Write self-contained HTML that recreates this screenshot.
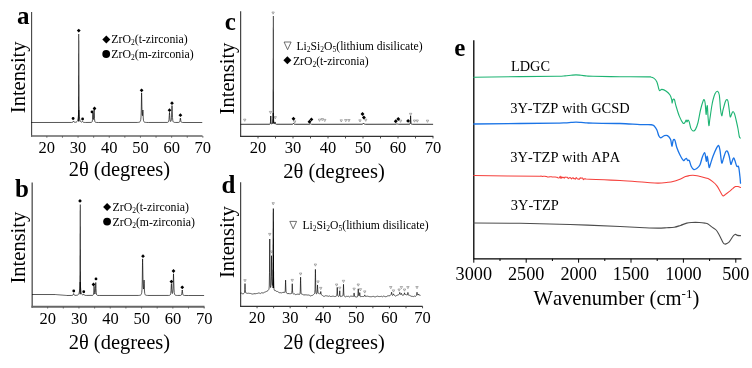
<!DOCTYPE html>
<html lang="en">
<head>
<meta charset="utf-8">
<title>XRD patterns and FTIR spectra</title>
<style>
html,body{margin:0;padding:0;background:#fff;}
body{width:752px;height:368px;overflow:hidden;}
svg{display:block;}
</style>
</head>
<body>
<svg width="752" height="368" viewBox="0 0 752 368" font-family='"Liberation Serif","DejaVu Serif",serif' style="font-kerning:none">
<rect width="752" height="368" fill="#fff"/>
<path d="M31.6 12V136.75" fill="none" stroke="#444" stroke-width="1.1"/>
<path d="M31.05 136H202.5" fill="none" stroke="#666" stroke-width="1.5"/>
<path d="M46.85 136V137.7M62.45 136V137.7M78.05 136V137.7M93.65 136V137.7M109.25 136V137.7M124.85 136V137.7M140.45 136V137.7M156.05 136V137.7M171.65 136V137.7M187.25 136V137.7M202.85 136V137.7" stroke="#555" stroke-width="0.9" fill="none"/>
<text x="46.85" y="153.1" font-size="16.5" text-anchor="middle" font-weight="normal" fill="#000">20</text>
<text x="78.05" y="153.1" font-size="16.5" text-anchor="middle" font-weight="normal" fill="#000">30</text>
<text x="109.25" y="153.1" font-size="16.5" text-anchor="middle" font-weight="normal" fill="#000">40</text>
<text x="140.45" y="153.1" font-size="16.5" text-anchor="middle" font-weight="normal" fill="#000">50</text>
<text x="171.65" y="153.1" font-size="16.5" text-anchor="middle" font-weight="normal" fill="#000">60</text>
<text x="202.85" y="153.1" font-size="16.5" text-anchor="middle" font-weight="normal" fill="#000">70</text>
<text x="119.4" y="176" font-size="20.5" text-anchor="middle" font-weight="normal" fill="#000">2θ (degrees)</text>
<text transform="translate(25 77.3) rotate(-90)" font-size="20.5" text-anchor="middle">Intensity</text>
<text x="29.6" y="23.6" font-size="25" text-anchor="end" font-weight="bold" fill="#000">a</text>
<path d="M31.25 122.5 L71.5 122.46 L72.25 122.39 L72.5 122.33 L72.75 122.21 L73 121.93 L73.25 121.38 L73.5 120.94 L73.75 121.36 L74 121.9 L74.25 122.16 L74.5 122.26 L75 122.31 L75.5 122.27 L75.75 122.22 L76 122.16 L76.25 122.08 L76.5 121.96 L76.75 121.79 L77 121.55 L77.25 121.19 L77.5 120.68 L77.75 119.91 L78 118.8 L78.25 117.19 L78.5 114.54 L78.75 110.26 L78.8 110 L79 112.85 L79.25 116.32 L79.5 118.23 L79.75 119.51 L80 120.4 L80.25 121.01 L80.5 121.41 L80.75 121.69 L81 121.88 L81.25 122 L81.5 122.08 L81.75 122.1 L82 122.03 L82.25 121.82 L82.5 121.5 L82.6 121.46 L82.75 121.58 L83 121.96 L83.25 122.2 L83.5 122.32 L83.75 122.37 L84.25 122.43 L85.5 122.47 L91 122.41 L91.25 122.38 L91.5 122.32 L91.75 122.2 L92 121.95 L92.25 121.33 L92.5 119.52 L92.75 114.81 L92.9 112.7 L93 113.62 L93.25 118.25 L93.5 119.5 L93.75 117.33 L94 111.03 L94.1 109.77 L94.25 112.5 L94.5 118.65 L94.75 121.01 L95 121.81 L95.25 122.13 L95.5 122.28 L95.75 122.36 L96 122.4 L96.5 122.45 L98.5 122.49 L137.25 122.44 L138.25 122.38 L138.75 122.32 L139 122.27 L139.25 122.21 L139.5 122.11 L139.75 121.97 L140 121.76 L140.25 121.42 L140.5 120.82 L140.75 119.68 L141 117.12 L141.25 110.35 L141.5 95.92 L141.6 92.84 L141.75 97.84 L141.9 106.1 L142 109.99 L142.25 114.85 L142.5 115.67 L142.75 111.97 L142.9 110.01 L143 111.61 L143.25 117.94 L143.5 120.5 L143.75 121.41 L144 121.81 L144.25 122.03 L144.5 122.16 L144.75 122.24 L145 122.3 L145.25 122.34 L145.75 122.4 L146.5 122.44 L148.5 122.48 L167 122.43 L167.5 122.38 L167.75 122.33 L168 122.24 L168.25 122.08 L168.5 121.77 L168.75 121.09 L169 119.45 L169.25 115.75 L169.5 112.41 L169.75 115.69 L170 119.33 L170.25 120.88 L170.5 121.41 L170.75 121.45 L171 121.09 L171.25 120.04 L171.5 117.33 L171.75 111.13 L172 105.54 L172.25 111.17 L172.5 117.41 L172.75 120.17 L173 121.31 L173.25 121.83 L173.5 122.08 L173.75 122.23 L174 122.31 L174.25 122.36 L174.75 122.42 L175.75 122.46 L178.75 122.41 L179 122.37 L179.25 122.28 L179.5 122.09 L179.75 121.67 L180 120.62 L180.25 118.65 L180.4 118 L180.5 118.31 L180.75 120.28 L181 121.53 L181.25 122.04 L181.5 122.25 L181.75 122.36 L182 122.41 L182.5 122.46 L186 122.5 L202.25 122.5" fill="none" stroke="#000" stroke-width="0.66" stroke-linejoin="round"/>
<path d="M78.4 34H79.2L79.45 121.6H78.15Z" fill="#000"/>
<circle cx="73.1" cy="118.5" r="1.4" fill="#000"/>
<circle cx="82.6" cy="119" r="1.4" fill="#000"/>
<circle cx="92" cy="111.9" r="1.4" fill="#000"/>
<path d="M78.75 28.7L80.65 30.6L78.75 32.5L76.85 30.6Z" fill="#000"/>
<path d="M94.5 106.6L96.4 108.5L94.5 110.4L92.6 108.5Z" fill="#000"/>
<path d="M141.6 88.4L143.5 90.3L141.6 92.2L139.7 90.3Z" fill="#000"/>
<path d="M169.5 108.3L171.4 110.2L169.5 112.1L167.6 110.2Z" fill="#000"/>
<path d="M172 101.3L173.9 103.2L172 105.1L170.1 103.2Z" fill="#000"/>
<path d="M180.4 113.3L182.3 115.2L180.4 117.1L178.5 115.2Z" fill="#000"/>
<path d="M106.3 35.6L110.3 39.6L106.3 43.6L102.3 39.6Z" fill="#000"/>
<circle cx="106.2" cy="54" r="3.9" fill="#000"/>
<text x="111.3" y="43.0" font-size="11.8">ZrO<tspan font-size="7.5" dy="2.2">2</tspan><tspan dy="-2.2">(t-zirconia)</tspan></text>
<text x="111.3" y="57.8" font-size="11.8">ZrO<tspan font-size="7.5" dy="2.2">2</tspan><tspan dy="-2.2">(m-zirconia)</tspan></text>
<path d="M32.2 182.5V307.75" fill="none" stroke="#666" stroke-width="1.5"/>
<path d="M31.45 306.8H204.5" fill="none" stroke="#666" stroke-width="1.9"/>
<path d="M47.65 306.8V308.5M63.3 306.8V308.5M78.95 306.8V308.5M94.6 306.8V308.5M110.25 306.8V308.5M125.9 306.8V308.5M141.55 306.8V308.5M157.2 306.8V308.5M172.85 306.8V308.5M188.5 306.8V308.5M204.15 306.8V308.5" stroke="#555" stroke-width="0.9" fill="none"/>
<text x="47.85" y="323.5" font-size="16.5" text-anchor="middle" font-weight="normal" fill="#000">20</text>
<text x="79.15" y="323.5" font-size="16.5" text-anchor="middle" font-weight="normal" fill="#000">30</text>
<text x="110.45" y="323.5" font-size="16.5" text-anchor="middle" font-weight="normal" fill="#000">40</text>
<text x="141.75" y="323.5" font-size="16.5" text-anchor="middle" font-weight="normal" fill="#000">50</text>
<text x="173.05" y="323.5" font-size="16.5" text-anchor="middle" font-weight="normal" fill="#000">60</text>
<text x="204.35" y="323.5" font-size="16.5" text-anchor="middle" font-weight="normal" fill="#000">70</text>
<text x="119.4" y="349.3" font-size="20.5" text-anchor="middle" font-weight="normal" fill="#000">2θ (degrees)</text>
<text transform="translate(25.2 247.6) rotate(-90)" font-size="20.5" text-anchor="middle">Intensity</text>
<text x="29" y="196.9" font-size="25" text-anchor="end" font-weight="bold" fill="#000">b</text>
<path d="M32 294.5 L55.5 294.54 L56 294.58 L56.5 294.62 L57 294.67 L57.5 294.71 L58 294.75 L58.5 294.79 L59 294.83 L59.5 294.87 L60 294.92 L60.5 294.96 L61 295 L61.5 295.04 L62 295.08 L62.5 295.12 L63 295.16 L63.5 295.21 L64 295.25 L64.5 295.29 L65 295.33 L65.5 295.37 L66 295.41 L66.5 295.45 L67 295.5 L71.75 295.45 L72.25 295.4 L72.5 295.35 L72.75 295.23 L73 294.98 L73.25 294.43 L73.5 293.68 L73.6 293.57 L73.75 293.8 L74 294.56 L74.25 295.03 L74.5 295.23 L74.75 295.32 L75 295.36 L76.75 295.29 L77 295.25 L77.25 295.19 L77.5 295.11 L77.75 295 L78 294.85 L78.25 294.64 L78.5 294.34 L78.75 293.9 L79 293.24 L79.25 292.28 L79.5 290.9 L79.75 288.84 L80 285.09 L80.2 282 L80.25 282.28 L80.5 286.91 L80.75 289.77 L81 291.51 L81.25 292.71 L81.5 293.53 L81.75 294.08 L82 294.45 L82.25 294.7 L82.5 294.86 L82.75 294.95 L83 294.94 L83.25 294.8 L83.5 294.41 L83.75 294.11 L84 294.49 L84.25 294.95 L84.5 295.19 L84.75 295.3 L85 295.36 L85.5 295.41 L86.5 295.45 L92.5 295.38 L92.75 295.32 L93 295.19 L93.25 294.92 L93.5 294.21 L93.75 292.07 L94 287.25 L94.1 286.27 L94.25 288.18 L94.5 292.5 L94.75 293.96 L95 293.99 L95.25 292.68 L95.5 288.21 L95.75 282.51 L96 288.29 L96.25 292.88 L96.5 294.42 L96.75 294.97 L97 295.21 L97.25 295.32 L97.5 295.38 L98 295.44 L99.25 295.48 L138.25 295.44 L139 295.4 L139.5 295.35 L139.75 295.31 L140 295.27 L140.25 295.2 L140.5 295.1 L140.75 294.96 L141 294.73 L141.25 294.37 L141.5 293.71 L141.75 292.41 L142 289.38 L142.25 281 L142.5 262.74 L142.6 258.86 L142.75 265.33 L143 280.83 L143.25 287 L143.5 289.07 L143.75 287.92 L144 281.45 L144.1 280.08 L144.25 283.8 L144.5 291.01 L144.75 293.54 L145 294.43 L145.25 294.83 L145.5 295.04 L145.75 295.17 L146 295.25 L146.25 295.31 L146.75 295.38 L147.5 295.43 L149 295.47 L168.75 295.43 L169.25 295.37 L169.5 295.33 L169.75 295.25 L170 295.12 L170.25 294.88 L170.5 294.39 L170.75 293.27 L171 290.54 L171.25 285.43 L171.4 283.7 L171.5 284.48 L171.75 289.46 L172 292.48 L172.25 293.47 L172.5 293.38 L172.75 292.19 L173 288.8 L173.25 280.92 L173.5 273.79 L173.75 280.99 L174 288.98 L174.25 292.51 L174.5 293.97 L174.75 294.63 L175 294.96 L175.25 295.15 L175.5 295.25 L175.75 295.32 L176 295.37 L176.5 295.42 L177.5 295.46 L180.5 295.41 L180.75 295.36 L181 295.28 L181.25 295.11 L181.5 294.75 L181.75 293.85 L182 291.82 L182.25 290 L182.5 291.82 L182.75 293.85 L183 294.75 L183.25 295.12 L183.5 295.28 L183.75 295.37 L184 295.41 L184.5 295.46 L188.25 295.5 L204.1 295.5" fill="none" stroke="#000" stroke-width="0.66" stroke-linejoin="round"/>
<path d="M79.8 204.6H80.6L80.85 294.2H79.55Z" fill="#000"/>
<circle cx="73.75" cy="291" r="1.4" fill="#000"/>
<circle cx="83.75" cy="291.75" r="1.4" fill="#000"/>
<circle cx="96" cy="278.9" r="1.4" fill="#000"/>
<path d="M80 199L81.9 200.9L80 202.8L78.1 200.9Z" fill="#000"/>
<path d="M93.5 282.6L95.4 284.5L93.5 286.4L91.6 284.5Z" fill="#000"/>
<path d="M143 254.3L144.9 256.2L143 258.1L141.1 256.2Z" fill="#000"/>
<path d="M171.4 279.7L173.3 281.6L171.4 283.5L169.5 281.6Z" fill="#000"/>
<path d="M173.5 269.1L175.4 271L173.5 272.9L171.6 271Z" fill="#000"/>
<path d="M182.25 285.4L184.15 287.3L182.25 289.2L180.35 287.3Z" fill="#000"/>
<path d="M107.1 203.1L111.1 207.1L107.1 211.1L103.1 207.1Z" fill="#000"/>
<circle cx="107.1" cy="221.6" r="3.9" fill="#000"/>
<text x="112.5" y="211.0" font-size="11.8">ZrO<tspan font-size="7.5" dy="2.2">2</tspan><tspan dy="-2.2">(t-zirconia)</tspan></text>
<text x="112.5" y="225.7" font-size="11.8">ZrO<tspan font-size="7.5" dy="2.2">2</tspan><tspan dy="-2.2">(m-zirconia)</tspan></text>
<path d="M240.65 11.3V136.97" fill="none" stroke="#333" stroke-width="1.1"/>
<path d="M240.1 136.35H433.3" fill="none" stroke="#333" stroke-width="1.25"/>
<path d="M258 136.35V138.45M275.5 136.35V138.45M293 136.35V138.45M310.5 136.35V138.45M328 136.35V138.45M345.5 136.35V138.45M363 136.35V138.45M380.5 136.35V138.45M398 136.35V138.45M415.5 136.35V138.45M433 136.35V138.45" stroke="#333" stroke-width="0.9" fill="none"/>
<text x="258" y="153.1" font-size="16.5" text-anchor="middle" font-weight="normal" fill="#000">20</text>
<text x="293" y="153.1" font-size="16.5" text-anchor="middle" font-weight="normal" fill="#000">30</text>
<text x="328" y="153.1" font-size="16.5" text-anchor="middle" font-weight="normal" fill="#000">40</text>
<text x="363" y="153.1" font-size="16.5" text-anchor="middle" font-weight="normal" fill="#000">50</text>
<text x="398" y="153.1" font-size="16.5" text-anchor="middle" font-weight="normal" fill="#000">60</text>
<text x="433" y="153.1" font-size="16.5" text-anchor="middle" font-weight="normal" fill="#000">70</text>
<text x="334" y="177.9" font-size="20.5" text-anchor="middle" font-weight="normal" fill="#000">2θ (degrees)</text>
<text transform="translate(233.5 78.5) rotate(-90)" font-size="20.5" text-anchor="middle">Intensity</text>
<text x="235.9" y="30.2" font-size="25" text-anchor="end" font-weight="bold" fill="#000">c</text>
<path d="M240.5 124.3 L269.5 124.24 L269.75 124.2 L270 124.1 L270.25 123.73 L270.5 121.88 L270.75 115.98 L271 121.86 L271.25 123.68 L271.5 124 L271.75 124.04 L272 123.97 L272.25 123.78 L272.5 123.32 L272.75 122.11 L273 118.5 L273.25 112.98 L273.5 118.49 L273.75 122.1 L274 123.28 L274.25 123.69 L274.5 123.71 L274.75 123.11 L275 121.95 L275.25 123.21 L275.5 123.94 L275.75 124.14 L276 124.22 L276.5 124.26 L292.5 124.24 L292.75 124.19 L293 124.03 L293.25 123.63 L293.5 123.2 L293.75 123.63 L294 124.03 L294.25 124.19 L294.5 124.24 L295.25 124.29 L309.5 124.26 L309.75 124.21 L310 124.12 L310.25 123.94 L310.5 123.8 L310.75 123.94 L311 124.12 L311.25 124.21 L311.5 124.26 L313 124.3 L362.25 124.23 L362.5 124.18 L362.75 124.08 L363 123.84 L363.25 123.37 L363.5 123 L363.75 123.37 L364 123.84 L364.25 124.08 L364.5 124.18 L364.75 124.23 L365.5 124.28 L396 124.22 L396.25 124.15 L396.5 124.03 L396.75 123.83 L397 123.7 L397.25 123.83 L397.5 124.03 L397.75 124.15 L398 124.22 L398.5 124.27 L409.5 124.24 L409.75 124.17 L410 123.95 L410.25 123.02 L410.5 117.89 L410.6 115.8 L410.75 119.51 L411 123.35 L411.25 124.02 L411.5 124.19 L411.75 124.24 L412.5 124.29 L433.1 124.3" fill="none" stroke="#000" stroke-width="0.8" stroke-linejoin="round"/>
<path d="M272.87 16H273.63L273.85 123.6H272.65Z" fill="#000"/>
<path d="M243.55 119.15L245.95 119.15L244.75 121.35Z" fill="none" stroke="#707070" stroke-width="0.55"/>
<path d="M269.3 111.4L271.7 111.4L270.5 113.6Z" fill="none" stroke="#707070" stroke-width="0.55"/>
<path d="M271.9 12L274.3 12L273.1 14.2Z" fill="none" stroke="#707070" stroke-width="0.55"/>
<path d="M274 116.65L276.4 116.65L275.2 118.85Z" fill="none" stroke="#707070" stroke-width="0.55"/>
<path d="M293.5 120.9L295.9 120.9L294.7 123.1Z" fill="none" stroke="#707070" stroke-width="0.55"/>
<path d="M318.3 119.15L320.7 119.15L319.5 121.35Z" fill="none" stroke="#707070" stroke-width="0.55"/>
<path d="M321.05 118.5L323.45 118.5L322.25 120.7Z" fill="none" stroke="#707070" stroke-width="0.55"/>
<path d="M323.55 119.4L325.95 119.4L324.75 121.6Z" fill="none" stroke="#707070" stroke-width="0.55"/>
<path d="M340.05 119.8L342.45 119.8L341.25 122Z" fill="none" stroke="#707070" stroke-width="0.55"/>
<path d="M344.55 119.5L346.95 119.5L345.75 121.7Z" fill="none" stroke="#707070" stroke-width="0.55"/>
<path d="M347.7 119.5L350.1 119.5L348.9 121.7Z" fill="none" stroke="#707070" stroke-width="0.55"/>
<path d="M358.8 119.8L361.2 119.8L360 122Z" fill="none" stroke="#707070" stroke-width="0.55"/>
<path d="M364.55 119.15L366.95 119.15L365.75 121.35Z" fill="none" stroke="#707070" stroke-width="0.55"/>
<path d="M399.4 120.15L401.8 120.15L400.6 122.35Z" fill="none" stroke="#707070" stroke-width="0.55"/>
<path d="M409.4 113.3L411.8 113.3L410.6 115.5Z" fill="none" stroke="#707070" stroke-width="0.55"/>
<path d="M413.3 120L415.7 120L414.5 122.2Z" fill="none" stroke="#707070" stroke-width="0.55"/>
<path d="M416.05 120L418.45 120L417.25 122.2Z" fill="none" stroke="#707070" stroke-width="0.55"/>
<path d="M426.3 120.15L428.7 120.15L427.5 122.35Z" fill="none" stroke="#707070" stroke-width="0.55"/>
<path d="M293.5 116.8L295.45 118.75L293.5 120.7L291.55 118.75Z" fill="#000"/>
<path d="M309.5 119.8L311.45 121.75L309.5 123.7L307.55 121.75Z" fill="#000"/>
<path d="M311.4 117.45L313.35 119.4L311.4 121.35L309.45 119.4Z" fill="#000"/>
<path d="M362.5 112.05L364.45 114L362.5 115.95L360.55 114Z" fill="#000"/>
<path d="M363.9 115.55L365.85 117.5L363.9 119.45L361.95 117.5Z" fill="#000"/>
<path d="M395.75 119.3L397.7 121.25L395.75 123.2L393.8 121.25Z" fill="#000"/>
<path d="M398.25 117.05L400.2 119L398.25 120.95L396.3 119Z" fill="#000"/>
<path d="M408.1 118.95L410.05 120.9L408.1 122.85L406.15 120.9Z" fill="#000"/>
<path d="M284.1 42.0H291.1L287.6 49.7Z" fill="none" stroke="#333" stroke-width="0.7"/>
<path d="M287.4 56.2L291.4 60.2L287.4 64.2L283.4 60.2Z" fill="#000"/>
<text x="296.5" y="49.5" font-size="11.65">Li<tspan font-size="7.5" dy="2.2">2</tspan><tspan dy="-2.2">Si</tspan><tspan font-size="7.5" dy="2.2">2</tspan><tspan dy="-2.2">O</tspan><tspan font-size="7.5" dy="2.2">5</tspan><tspan dy="-2.2">(lithium disilicate)</tspan></text>
<text x="293.0" y="64.5" font-size="11.65">ZrO<tspan font-size="7.5" dy="2.2">2</tspan><tspan dy="-2.2">(t-zirconia)</tspan></text>
<path d="M240.65 182.3V306.98" fill="none" stroke="#333" stroke-width="1.1"/>
<path d="M240.1 306.35H422.6" fill="none" stroke="#333" stroke-width="1.25"/>
<path d="M257.05 306.35V308.25M273.6 306.35V308.25M290.15 306.35V308.25M306.7 306.35V308.25M323.25 306.35V308.25M339.8 306.35V308.25M356.35 306.35V308.25M372.9 306.35V308.25M389.45 306.35V308.25M406 306.35V308.25M422.55 306.35V308.25" stroke="#333" stroke-width="0.9" fill="none"/>
<text x="257.05" y="323" font-size="16.5" text-anchor="middle" font-weight="normal" fill="#000">20</text>
<text x="290.15" y="323" font-size="16.5" text-anchor="middle" font-weight="normal" fill="#000">30</text>
<text x="323.25" y="323" font-size="16.5" text-anchor="middle" font-weight="normal" fill="#000">40</text>
<text x="356.35" y="323" font-size="16.5" text-anchor="middle" font-weight="normal" fill="#000">50</text>
<text x="389.45" y="323" font-size="16.5" text-anchor="middle" font-weight="normal" fill="#000">60</text>
<text x="422.55" y="323" font-size="16.5" text-anchor="middle" font-weight="normal" fill="#000">70</text>
<text x="334" y="348.7" font-size="20.5" text-anchor="middle" font-weight="normal" fill="#000">2θ (degrees)</text>
<text transform="translate(233.5 242.2) rotate(-90)" font-size="20.5" text-anchor="middle">Intensity</text>
<text x="235.3" y="193.2" font-size="25" text-anchor="end" font-weight="bold" fill="#000">d</text>
<path d="M240.5 293.3 L240.75 293.23 L241 293.17 L241.25 293.11 L241.5 293.15 L241.75 293.33 L242 293.51 L242.25 293.68 L242.5 293.74 L243 293.8 L243.25 293.79 L243.5 293.64 L243.75 293.49 L244 293.29 L244.25 293.04 L244.5 292.41 L244.75 289.82 L245 283.58 L245.25 289.77 L245.5 292.32 L245.75 292.89 L246 293.07 L246.25 293.11 L246.75 293.12 L247 293.19 L247.25 293.26 L247.5 293.34 L247.75 293.39 L248 293.34 L248.25 293.28 L248.5 293.23 L248.75 293.24 L249 293.28 L249.25 293.33 L249.5 293.37 L250.25 293.41 L250.5 293.46 L250.75 293.54 L251 293.63 L251.25 293.72 L251.5 293.8 L251.75 293.89 L252 293.98 L252.25 294.05 L252.75 293.99 L253 293.97 L253.25 293.91 L253.5 293.84 L253.75 293.76 L254 293.69 L255 293.73 L255.75 293.73 L256 293.68 L256.25 293.61 L256.5 293.54 L256.75 293.48 L257.25 293.41 L257.5 293.37 L257.75 293.3 L258 293.2 L258.25 293.1 L258.5 293 L259 293.05 L259.25 293.08 L259.5 293.15 L259.75 293.29 L260 293.44 L260.25 293.58 L260.5 293.42 L260.75 293.18 L261 292.94 L261.25 292.76 L261.5 292.83 L261.75 292.89 L262 292.96 L262.75 292.89 L263.5 292.84 L263.75 292.84 L264 292.74 L264.25 292.52 L264.5 292.29 L264.75 292.06 L265 291.98 L265.25 291.92 L265.5 291.87 L265.75 291.81 L266 291.74 L266.25 291.58 L266.5 291.41 L266.75 291.27 L267 291.14 L267.25 291.01 L267.5 290.86 L267.75 290.68 L268 290.48 L268.25 290.23 L268.5 289.95 L268.75 289.71 L269 288.9 L269.25 286 L269.5 272.35 L269.75 239.01 L270 271.95 L270.25 285.15 L270.5 287.54 L270.75 287.35 L271 285.15 L271.25 276.22 L271.5 255.71 L271.75 274 L271.8 276.63 L272 281.83 L272.25 284.34 L272.5 285.41 L272.75 284.8 L273 280.06 L273.25 270.23 L273.3 269.75 L273.5 276.97 L273.75 285.72 L274 288.76 L274.25 289.87 L274.5 290.38 L274.75 290.64 L275.5 290.63 L275.75 290.78 L276 290.98 L276.25 291.17 L276.5 291.36 L277.25 291.37 L277.5 291.46 L277.75 291.71 L278 291.95 L278.25 292.07 L278.5 292.22 L278.75 292.38 L279 292.53 L279.25 292.66 L280.75 292.72 L281 292.75 L281.25 292.8 L281.5 292.85 L281.75 292.9 L282 292.86 L282.25 292.7 L282.5 292.54 L282.75 292.38 L283 292.33 L284.25 292.37 L284.5 292.35 L284.75 292.3 L285 291.99 L285.25 290.32 L285.5 282.67 L285.6 280.13 L285.75 284.93 L286 291.21 L286.25 292.61 L286.5 293.04 L286.75 293.26 L287 293.42 L287.25 293.55 L289 293.59 L289.25 293.63 L289.5 293.7 L289.75 293.76 L290 293.82 L290.25 293.77 L290.5 293.71 L290.75 293.65 L291.25 293.59 L291.5 293.47 L291.75 292.95 L292 290.25 L292.25 283.71 L292.5 290.05 L292.75 292.64 L293 293.43 L293.25 293.82 L293.5 294.1 L293.75 294.15 L294 294.06 L294.25 293.96 L294.5 293.86 L294.75 294.06 L295 294.26 L295.25 294.47 L295.5 294.57 L296 294.49 L296.25 294.45 L296.5 294.4 L296.75 294.34 L297 294.28 L297.25 294.22 L297.75 294.16 L298.75 294.22 L299 294.24 L299.25 294.32 L299.5 294.34 L299.75 294.25 L300 293.72 L300.25 291.3 L300.5 280.67 L300.6 277.17 L300.75 283.7 L301 292.1 L301.25 293.78 L301.5 294.13 L301.75 294.2 L302 294.28 L302.25 294.32 L302.5 294.34 L302.75 294.44 L303 294.57 L303.25 294.71 L303.5 294.84 L304 294.91 L305.25 294.86 L305.75 294.81 L306.25 294.8 L306.5 294.92 L306.75 295.05 L307 295.17 L307.25 295.15 L307.5 295.03 L307.75 294.91 L308 294.8 L308.25 294.9 L308.5 295 L308.75 295.1 L309 295.19 L309.25 295.26 L309.5 295.33 L309.75 295.4 L310 295.54 L310.25 295.69 L310.5 295.85 L310.75 295.96 L311 295.91 L311.25 295.74 L311.5 295.57 L311.75 295.48 L312.25 295.41 L312.5 295.37 L312.75 295.17 L313 294.97 L313.25 294.76 L313.5 294.56 L313.75 294.38 L314 294.16 L314.25 293.93 L314.5 293.6 L314.75 292.75 L315 289.77 L315.25 277.54 L315.4 269.39 L315.5 273.79 L315.75 288.72 L316 292.78 L316.25 293.76 L316.5 293.91 L316.75 293.71 L317 292.92 L317.25 289.97 L317.5 284.93 L317.75 289.73 L318 292.48 L318.25 293.14 L318.5 293.28 L318.75 293.27 L319 293.36 L319.25 293.63 L319.5 293.88 L319.75 294.07 L320 294.13 L320.25 293.93 L320.5 292.94 L320.75 291.51 L321 293.14 L321.25 294.39 L321.5 294.84 L321.75 295.07 L322 295.23 L322.25 295.35 L322.5 295.52 L322.75 295.77 L323 296.01 L323.25 296.13 L323.5 296.21 L323.75 296.28 L324 296.35 L324.25 296.38 L324.5 296.21 L324.75 296.04 L325 295.88 L325.25 295.78 L325.5 295.74 L325.75 295.7 L326 295.66 L326.25 295.74 L326.5 295.83 L326.75 295.91 L327 295.97 L327.5 296.03 L327.75 296.05 L328 296.12 L328.25 296.19 L328.5 296.26 L328.75 296.3 L329 296.18 L329.25 296.07 L329.5 295.95 L329.75 296 L330 296.16 L330.25 296.31 L330.5 296.47 L331.5 296.42 L331.75 296.37 L332 296.32 L332.25 296.27 L332.5 296.2 L332.75 296.13 L333 296.06 L333.25 296.05 L333.5 296.25 L333.75 296.44 L334 296.64 L334.25 296.62 L334.5 296.46 L334.75 296.3 L335 296.13 L335.25 296.26 L335.5 296.38 L335.75 296.5 L336 296.49 L336.25 296.29 L336.5 296 L336.75 295.35 L337 293.01 L337.25 287.35 L337.5 293.01 L337.75 295.34 L338 295.98 L338.25 296.27 L338.5 296.45 L338.75 296.42 L339 296.23 L339.25 295.8 L339.5 294.2 L339.75 290.72 L340 294.54 L340.25 296.2 L340.5 296.58 L340.75 296.57 L341 296.49 L341.25 296.4 L341.5 296.32 L341.75 296.24 L342 296.15 L342.25 296.06 L342.5 296 L342.75 295.8 L343 295.12 L343.25 292 L343.5 284.33 L343.75 292.11 L344 295.32 L344.25 296.08 L344.5 296.35 L344.75 296.5 L345 296.61 L345.25 296.7 L345.5 296.79 L345.75 296.87 L346 296.73 L346.25 296.54 L346.5 296.34 L346.75 296.2 L347 296.27 L347.25 296.33 L347.5 296.4 L347.75 296.4 L348 296.36 L348.25 296.32 L348.5 296.28 L348.75 296.48 L349 296.67 L349.25 296.86 L349.5 296.9 L349.75 296.7 L350 296.49 L350.25 296.29 L350.5 296.23 L351.25 296.18 L352 296.19 L352.25 296.24 L352.5 296.31 L352.75 296.38 L353 296.43 L353.25 296.48 L353.5 296.4 L353.75 295.78 L354 293.54 L354.1 292.95 L354.25 294.09 L354.5 296.08 L354.75 296.65 L355 296.78 L355.75 296.79 L356 296.86 L356.25 296.93 L356.5 296.99 L356.75 296.99 L357 296.95 L357.25 296.88 L357.5 296.73 L357.75 296.13 L358 293.94 L358.25 288.8 L358.5 293.66 L358.75 295.61 L359 295.91 L359.25 295.67 L359.5 294.59 L359.75 292.62 L360 295.01 L360.25 296.42 L360.5 296.72 L360.75 296.78 L361 296.78 L361.25 296.68 L361.5 296.51 L361.75 296.34 L362 296.16 L362.25 296.33 L362.5 296.48 L362.75 296.64 L363 296.71 L363.25 296.63 L363.5 296.55 L363.75 296.46 L364 296.41 L364.25 296.27 L364.5 295.76 L364.75 294.88 L365 295.75 L365.25 296.24 L365.5 296.37 L366.5 296.29 L366.75 296.25 L367 296.21 L367.25 296.17 L367.5 296.18 L367.75 296.25 L368 296.32 L368.25 296.39 L368.75 296.43 L369 296.45 L369.25 296.5 L369.5 296.65 L369.75 296.8 L370 296.95 L370.25 296.88 L370.5 296.67 L370.75 296.46 L371 296.25 L371.25 296.46 L371.5 296.66 L371.75 296.87 L372 296.92 L372.25 296.73 L372.5 296.54 L372.75 296.34 L373.5 296.4 L373.75 296.45 L374 296.57 L374.25 296.68 L374.5 296.79 L374.75 296.84 L375.5 296.83 L375.75 296.73 L376 296.63 L376.25 296.53 L376.5 296.43 L376.75 296.33 L377 296.23 L377.25 296.13 L377.5 296.2 L377.75 296.3 L378 296.4 L378.25 296.48 L378.75 296.42 L379 296.4 L379.25 296.46 L379.5 296.6 L379.75 296.73 L380 296.87 L380.25 296.68 L380.5 296.5 L380.75 296.31 L381 296.22 L381.25 296.26 L381.5 296.3 L381.75 296.34 L382 296.45 L382.25 296.58 L382.5 296.71 L382.75 296.77 L383 296.55 L383.25 296.33 L383.5 296.11 L383.75 296.08 L384 296.17 L384.25 296.27 L384.5 296.36 L384.75 296.46 L385 296.55 L385.25 296.65 L385.5 296.7 L386.25 296.66 L386.5 296.51 L386.75 296.33 L387 296.14 L387.25 295.99 L388 295.98 L388.25 295.87 L388.5 295.75 L388.75 295.64 L389 295.53 L389.25 295.63 L389.5 295.72 L389.75 295.81 L390 295.75 L390.25 295.45 L390.5 295.13 L390.75 294.76 L391 294.48 L391.25 293.94 L391.5 292.45 L391.6 292.17 L391.75 292.94 L392 294.53 L392.25 295.16 L392.5 295.4 L392.75 295.41 L393 295.22 L393.25 294.69 L393.5 293.84 L393.75 294.63 L394 295.1 L394.25 295.25 L394.5 295.38 L394.75 295.61 L395 295.83 L395.25 296.05 L395.5 296.06 L395.75 296.01 L396 295.97 L396.25 295.78 L396.5 295.59 L396.75 295.41 L397 295.22 L397.25 295.15 L398 295.18 L398.25 294.98 L398.5 294.76 L398.75 294.64 L399 294.52 L399.25 294.33 L399.5 293.61 L399.75 292.39 L400 293.55 L400.25 294.18 L400.5 294.28 L401 294.24 L401.25 293.62 L401.4 293.26 L401.5 293.59 L401.75 294.65 L402 295 L402.25 295.14 L402.5 295.21 L402.75 295.15 L403 295.09 L403.25 295.01 L403.75 295 L404 294.89 L404.25 294.24 L404.5 292.81 L404.75 293.85 L405 294.36 L405.25 294.39 L405.5 294.51 L405.75 294.59 L406 294.65 L406.25 294.72 L406.5 294.77 L406.75 294.82 L407.25 294.84 L407.5 294.54 L407.75 293.18 L407.9 292.41 L408 292.85 L408.25 294.57 L408.5 295.13 L408.75 295.29 L409 295.24 L409.25 295.3 L409.5 295.34 L409.75 295.4 L410 295.55 L410.25 295.69 L410.5 295.83 L410.75 296.02 L411 296.24 L411.5 296.31 L412.25 296.33 L412.5 296.37 L412.75 296.47 L413 296.56 L413.25 296.66 L413.5 296.52 L413.75 296.32 L414 296.13 L414.25 296 L414.5 296.14 L414.75 296.28 L415 296.42 L415.5 296.42 L415.75 296.16 L416 295.88 L416.25 295.59 L416.5 295.14 L416.75 294.04 L417 292.28 L417.25 293.85 L417.5 294.78 L417.75 295.04 L418 295.1 L418.25 295.02 L418.5 294.57 L418.7 294.08 L418.75 294.13 L419 294.84 L419.25 295.12 L419.5 295.19 L419.75 295.24 L420 295.31 L420.25 295.37 L420.5 295.43" fill="none" stroke="#000" stroke-width="0.66" stroke-linejoin="round"/>
<path d="M272.8 208.5H273.8L274.1 288H272.5Z" fill="#000"/>
<path d="M243.8 279.65L246.2 279.65L245 281.85Z" fill="none" stroke="#707070" stroke-width="0.55"/>
<path d="M268.55 233.4L270.95 233.4L269.75 235.6Z" fill="none" stroke="#707070" stroke-width="0.55"/>
<path d="M270.5 250.9L272.9 250.9L271.7 253.1Z" fill="none" stroke="#707070" stroke-width="0.55"/>
<path d="M272 202.65L274.4 202.65L273.2 204.85Z" fill="none" stroke="#707070" stroke-width="0.55"/>
<path d="M291.05 279.4L293.45 279.4L292.25 281.6Z" fill="none" stroke="#707070" stroke-width="0.55"/>
<path d="M299.4 273L301.8 273L300.6 275.2Z" fill="none" stroke="#707070" stroke-width="0.55"/>
<path d="M314.2 264L316.6 264L315.4 266.2Z" fill="none" stroke="#707070" stroke-width="0.55"/>
<path d="M316.8 280.9L319.2 280.9L318 283.1Z" fill="none" stroke="#707070" stroke-width="0.55"/>
<path d="M319.55 287.4L321.95 287.4L320.75 289.6Z" fill="none" stroke="#707070" stroke-width="0.55"/>
<path d="M335.4 284L337.8 284L336.6 286.2Z" fill="none" stroke="#707070" stroke-width="0.55"/>
<path d="M338.55 287.15L340.95 287.15L339.75 289.35Z" fill="none" stroke="#707070" stroke-width="0.55"/>
<path d="M342.3 280.3L344.7 280.3L343.5 282.5Z" fill="none" stroke="#707070" stroke-width="0.55"/>
<path d="M352.9 288.15L355.3 288.15L354.1 290.35Z" fill="none" stroke="#707070" stroke-width="0.55"/>
<path d="M357.05 284L359.45 284L358.25 286.2Z" fill="none" stroke="#707070" stroke-width="0.55"/>
<path d="M359.2 288.65L361.6 288.65L360.4 290.85Z" fill="none" stroke="#707070" stroke-width="0.55"/>
<path d="M363.55 290.9L365.95 290.9L364.75 293.1Z" fill="none" stroke="#707070" stroke-width="0.55"/>
<path d="M389.55 286.5L391.95 286.5L390.75 288.7Z" fill="none" stroke="#707070" stroke-width="0.55"/>
<path d="M392.3 289.9L394.7 289.9L393.5 292.1Z" fill="none" stroke="#707070" stroke-width="0.55"/>
<path d="M397.9 289L400.3 289L399.1 291.2Z" fill="none" stroke="#707070" stroke-width="0.55"/>
<path d="M400.2 286.5L402.6 286.5L401.4 288.7Z" fill="none" stroke="#707070" stroke-width="0.55"/>
<path d="M403.3 289L405.7 289L404.5 291.2Z" fill="none" stroke="#707070" stroke-width="0.55"/>
<path d="M406.7 286.5L409.1 286.5L407.9 288.7Z" fill="none" stroke="#707070" stroke-width="0.55"/>
<path d="M415.8 286.5L418.2 286.5L417 288.7Z" fill="none" stroke="#707070" stroke-width="0.55"/>
<path d="M289.8 221.4H296.6L293.2 228.8Z" fill="none" stroke="#333" stroke-width="0.7"/>
<text x="302.5" y="229.2" font-size="11.65">Li<tspan font-size="7.5" dy="2.2">2</tspan><tspan dy="-2.2">Si</tspan><tspan font-size="7.5" dy="2.2">2</tspan><tspan dy="-2.2">O</tspan><tspan font-size="7.5" dy="2.2">5</tspan><tspan dy="-2.2">(lithium disilicate)</tspan></text>
<path d="M473.8 40.2V258.8H741.5" fill="none" stroke="#000" stroke-width="1.3"/>
<path d="M473.8 258.8v3.9M500 258.8v2.2M526.2 258.8v3.9M552.4 258.8v2.2M578.6 258.8v3.9M604.8 258.8v2.2M631 258.8v3.9M657.2 258.8v2.2M683.4 258.8v3.9M709.6 258.8v2.2M735.8 258.8v3.9" stroke="#000" stroke-width="1" fill="none"/>
<text x="473.8" y="280.4" font-size="18.2" text-anchor="middle" font-weight="normal" fill="#000">3000</text>
<text x="526.2" y="280.4" font-size="18.2" text-anchor="middle" font-weight="normal" fill="#000">2500</text>
<text x="578.6" y="280.4" font-size="18.2" text-anchor="middle" font-weight="normal" fill="#000">2000</text>
<text x="631" y="280.4" font-size="18.2" text-anchor="middle" font-weight="normal" fill="#000">1500</text>
<text x="683.4" y="280.4" font-size="18.2" text-anchor="middle" font-weight="normal" fill="#000">1000</text>
<text x="735.8" y="280.4" font-size="18.2" text-anchor="middle" font-weight="normal" fill="#000">500</text>
<text x="616.4" y="304.8" font-size="20.6" text-anchor="middle">Wavenumber (cm<tspan font-size="13" dy="-6.6">-1</tspan><tspan dy="6.6">)</tspan></text>
<text x="465.4" y="56.1" font-size="25" text-anchor="end" font-weight="bold" fill="#000">e</text>
<text x="511" y="71.2" font-size="14.3" text-anchor="start" font-weight="normal" fill="#000">LDGC</text>
<text x="510.2" y="113.3" font-size="14.45" text-anchor="start" font-weight="normal" fill="#000">3Y-TZP with GCSD</text>
<text x="510.3" y="161.7" font-size="14.45" text-anchor="start" font-weight="normal" fill="#000">3Y-TZP with APA</text>
<text x="510.8" y="209.9" font-size="14.4" text-anchor="start" font-weight="normal" fill="#000">3Y-TZP</text>
<path d="M473.8 77.25L520 76.6L557 76.3C564.5 76.18 562.67 76.07 565 75.9C567.33 75.73 569.17 75.47 571 75.3C572.83 75.13 574.33 74.9 576 74.9C577.67 74.9 579.17 75.12 581 75.3C582.83 75.48 585 75.83 587 76C589 76.17 587.5 76.18 593 76.3C598.5 76.42 610.83 76.6 620 76.7C629.17 76.8 643 76.87 648 76.9C653 76.93 649.04 76.7 650 76.9C650.96 77.1 652.6 77.27 653.75 78.1C654.9 78.93 656.07 80.12 656.9 81.9C657.73 83.68 658.27 87.3 658.75 88.75C659.23 90.2 659.23 90.49 659.75 90.6C660.27 90.71 660.82 89.29 661.9 89.4C662.98 89.51 664.9 90.32 666.25 91.25C667.6 92.18 669.09 93.61 670 95C670.91 96.39 671.35 98.25 671.7 99.6C672.05 100.95 671.88 103.1 672.1 103.1C672.32 103.1 672.62 100.18 673 99.6C673.38 99.02 673.88 98.49 674.4 99.6C674.92 100.71 675.28 103.5 676.1 106.25C676.92 109 678.15 113.29 679.3 116.1C680.45 118.91 682.07 122.03 683 123.1C683.93 124.17 684.38 123.02 684.9 122.5C685.42 121.98 685.75 120.1 686.1 120C686.45 119.9 686.68 121.9 687 121.9C687.32 121.9 687.62 120 688 120C688.38 120 688.79 120.55 689.25 121.9C689.71 123.25 690.12 126.58 690.75 128.1C691.38 129.62 692.21 130.78 693 131C693.79 131.22 694.67 130.82 695.5 129.4C696.33 127.98 697.17 125.73 698 122.5C698.83 119.27 699.67 113.53 700.5 110C701.33 106.47 702.38 103.03 703 101.3C703.62 99.57 703.83 99.23 704.2 99.6C704.57 99.97 704.88 101.03 705.2 103.5C705.52 105.97 705.84 113.73 706.1 114.4C706.36 115.07 706.53 108.86 706.75 107.5C706.97 106.14 707.19 104.79 707.4 106.25C707.61 107.71 707.75 113.03 708 116.25C708.25 119.47 708.58 125.18 708.9 125.6C709.22 126.02 709.42 121.97 709.9 118.75C710.38 115.53 711.23 109.38 711.75 106.25C712.27 103.12 712.46 102.08 713 100C713.54 97.92 714.25 95.21 715 93.75C715.75 92.29 716.78 91.04 717.5 91.25C718.22 91.46 718.8 92.04 719.3 95C719.8 97.96 720.08 105.53 720.5 109C720.92 112.47 721.38 115.63 721.8 115.8C722.22 115.97 722.38 112.42 723 110C723.62 107.58 724.85 102.98 725.5 101.25C726.15 99.52 726.48 99.6 726.9 99.6C727.32 99.6 727.61 99.52 728 101.25C728.39 102.98 728.88 107.39 729.25 110C729.62 112.61 729.83 116.28 730.25 116.9C730.67 117.53 731.29 114.65 731.75 113.75C732.21 112.85 732.54 111.5 733 111.5C733.46 111.5 733.98 112.33 734.5 113.75C735.02 115.17 735.52 117.5 736.1 120C736.68 122.5 737.48 126.04 738 128.75C738.52 131.46 738.88 134.69 739.25 136.25C739.62 137.81 740.08 137.79 740.25 138.1" fill="none" stroke="#1eb473" stroke-width="1.12" stroke-linejoin="round" stroke-linecap="round"/>
<path d="M473.8 124L520 123.5L557 123.1C564.5 122.98 562.67 122.92 565 122.8C567.33 122.68 569.17 122.52 571 122.4C572.83 122.28 574.33 122.1 576 122.1C577.67 122.1 579.17 122.27 581 122.4C582.83 122.53 585 122.77 587 122.9C589 123.03 587.5 123.1 593 123.2C598.5 123.3 612.17 123.27 620 123.5C627.83 123.73 634.79 124.39 640 124.6C645.21 124.81 648.85 124.47 651.25 124.75C653.65 125.03 653.46 125.38 654.4 126.25C655.34 127.12 656.17 128.44 656.9 130C657.62 131.56 658.13 134.31 658.75 135.6C659.37 136.89 659.66 137.75 660.6 137.75C661.54 137.75 663.25 135.96 664.4 135.6C665.55 135.24 666.47 134.97 667.5 135.6C668.53 136.23 669.87 137.62 670.6 139.4C671.33 141.18 671.47 146.1 671.9 146.25C672.33 146.4 672.7 141.29 673.2 140.3C673.7 139.31 674.3 139.1 674.9 140.3C675.5 141.5 675.95 145.05 676.8 147.5C677.65 149.95 678.9 152.85 680 155C681.1 157.15 682.57 159.67 683.4 160.4C684.23 161.13 684.5 159.73 685 159.4C685.5 159.07 685.95 158.22 686.4 158.4C686.85 158.58 687.23 160.17 687.7 160.5C688.17 160.83 688.62 159.45 689.2 160.4C689.78 161.35 690.47 164.7 691.2 166.2C691.93 167.7 692.68 169.02 693.6 169.4C694.52 169.78 695.7 169.23 696.75 168.5C697.8 167.77 698.99 166.83 699.9 165C700.81 163.17 701.42 159.57 702.2 157.5C702.98 155.43 704.02 152.6 704.6 152.6C705.18 152.6 705.38 156.06 705.7 157.5C706.02 158.94 706.23 161.46 706.5 161.25C706.77 161.04 707.02 156.16 707.3 156.25C707.58 156.34 707.88 159.93 708.2 161.8C708.52 163.68 708.83 167.1 709.2 167.5C709.57 167.9 709.77 166.07 710.4 164.2C711.03 162.33 711.98 158.98 713 156.3C714.02 153.62 715.55 149.88 716.5 148.1C717.45 146.32 718.12 145.23 718.7 145.6C719.28 145.97 719.58 147.9 720 150.3C720.42 152.7 720.87 157.87 721.2 160C721.53 162.13 721.63 163.33 722 163.1C722.37 162.87 722.82 160.42 723.4 158.6C723.98 156.78 724.83 153.42 725.5 152.2C726.17 150.97 726.78 150.57 727.4 151.25C728.02 151.93 728.63 154.09 729.2 156.25C729.77 158.41 730.35 163.24 730.8 164.2C731.25 165.16 731.45 163.03 731.9 162C732.35 160.97 733 158.23 733.5 158C734 157.77 734.36 159.22 734.9 160.6C735.44 161.97 736.13 165.2 736.75 166.25C737.37 167.3 738.08 165.23 738.6 166.9C739.12 168.57 739.58 173.55 739.9 176.25C740.22 178.95 740.4 181.96 740.5 183.1" fill="none" stroke="#1b74e6" stroke-width="1.3" stroke-linejoin="round" stroke-linecap="round"/>
<path d="M473.8 175.5L507.5 176L540 176.2L541 176.09L541.8 176.19L542.6 176.52L543.4 176.31L544.2 176.27L545 176.3L545.8 176.6L546.6 176.54L547.4 176.91L548.2 176.91L549 177.01L549.8 176.69L550.6 176.65L551.4 176.7L552.2 176.95L553 177.1L553.8 177.01L554.6 176.95L555.4 177.09L556.2 177.24L557 177.31L557.8 177.74L558.6 177.98L559.4 177.68L560.2 176.2L561 178.55L561.8 176.84L562.6 177.68L563.4 177.35L564.2 178.09L565 177.12L565.8 177.25L566.6 177.3L567.4 177.17L568.2 178.6L569 178.07L569.8 177.63L570.6 177.81L571.4 178.99L572.2 178.12L573 177.64L573.8 178.78L574.6 178.53L575.4 179.22L576.2 177.58L577 178.33L577.8 179.03L578.6 179.12L579.4 179.31L580.2 177.69L581 178.22L581.8 177.93L582.6 178.11L583.4 179.65L584.2 178.84L585 179.06L585.8 178.82L586 179C591.7 179.28 610.17 179.95 620 180.5C629.83 181.05 638.67 181.87 645 182.3C651.33 182.73 654.17 183.1 658 183.1C661.83 183.1 665.5 182.57 668 182.3C670.5 182.03 671.12 181.98 673 181.5C674.88 181.02 677.17 180.22 679.25 179.4C681.33 178.58 683.83 177.23 685.5 176.6C687.17 175.97 688.05 175.82 689.3 175.6C690.55 175.38 691.72 175.28 693 175.3C694.28 175.32 695.75 175.5 697 175.7C698.25 175.9 698.67 176.02 700.5 176.5C702.33 176.98 705.92 177.7 708 178.6C710.08 179.5 711.54 180.73 713 181.9C714.46 183.07 715.5 183.93 716.75 185.6C718 187.27 719.59 190.33 720.5 191.9C721.41 193.47 721.78 194.32 722.2 195C722.62 195.68 722.7 195.92 723 196C723.3 196.08 723.58 195.77 724 195.5C724.42 195.23 724.42 195.22 725.5 194.4C726.58 193.58 729.25 191.62 730.5 190.6C731.75 189.58 732.17 188.97 733 188.3C733.83 187.63 734.67 186.88 735.5 186.6C736.33 186.32 737.17 186.45 738 186.6C738.83 186.75 740.08 187.35 740.5 187.5" fill="none" stroke="#f5403c" stroke-width="1.05" stroke-linejoin="round" stroke-linecap="round"/>
<path d="M473.8 223L520 223.3L570 224.5C586.67 225.03 607.5 225.97 620 226.5C632.5 227.03 638.67 227.43 645 227.7C651.33 227.97 654.38 228.09 658 228.1C661.62 228.11 664.04 227.89 666.75 227.75C669.46 227.61 671.96 227.64 674.25 227.25C676.54 226.86 678.42 226.09 680.5 225.4C682.58 224.71 684.88 223.58 686.75 223.1C688.62 222.62 689.67 222.6 691.75 222.5C693.83 222.4 697.04 222.4 699.25 222.5C701.46 222.6 703.54 222.87 705 223.1C706.46 223.33 706.88 223.27 708 223.9C709.12 224.53 710.4 225.88 711.75 226.9C713.1 227.92 714.85 228.65 716.1 230C717.35 231.35 718.1 232.92 719.25 235C720.4 237.08 722.14 241.02 723 242.5C723.86 243.98 724 243.63 724.4 243.9C724.8 244.17 725 244.17 725.4 244.1C725.8 244.03 726.16 243.87 726.8 243.5C727.44 243.13 728.22 243.11 729.25 241.9C730.28 240.69 732.11 237.45 733 236.25C733.89 235.05 734.17 235.01 734.6 234.7C735.03 234.39 735.13 234.28 735.6 234.4C736.07 234.52 736.58 235.2 737.4 235.4C738.22 235.6 739.98 235.57 740.5 235.6" fill="none" stroke="#4d4d4d" stroke-width="1.1" stroke-linejoin="round" stroke-linecap="round"/>
</svg>
</body>
</html>
